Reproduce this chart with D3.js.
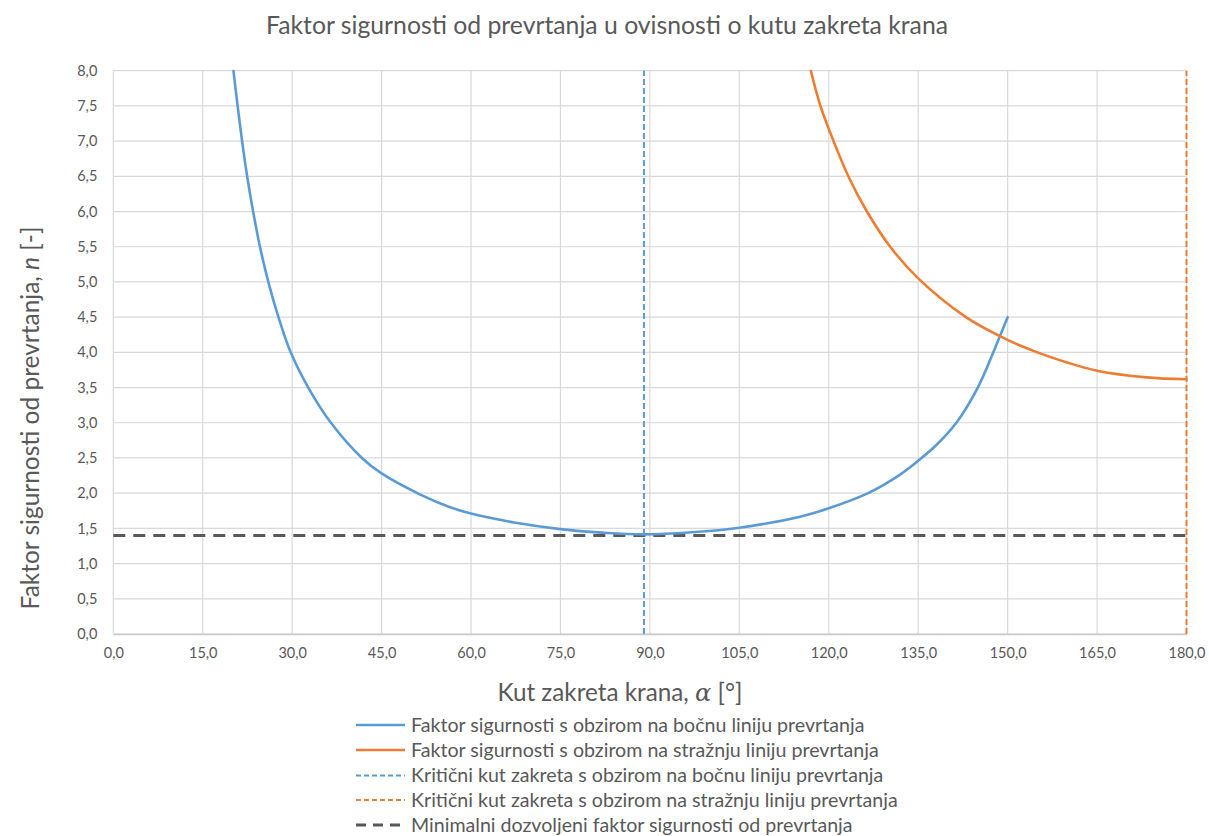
<!DOCTYPE html>
<html>
<head>
<meta charset="utf-8">
<script src="https://cdn.jsdelivr.net/npm/d3@7"></script>
<style>
  html, body { margin: 0; padding: 0; background: #ffffff; }
  svg { display: block; font-family: Lato, "Open Sans", sans-serif; }
</style>
</head>
<body>
<svg id="chart" width="1209" height="836"></svg>
<script>
// ---------------- data ----------------
const chartTitle = "Faktor sigurnosti od prevrtanja u ovisnosti o kutu zakreta krana";
const xTicks = [0, 15, 30, 45, 60, 75, 90, 105, 120, 135, 150, 165, 180];
const yTicks = [0, 0.5, 1, 1.5, 2, 2.5, 3, 3.5, 4, 4.5, 5, 5.5, 6, 6.5, 7, 7.5, 8];

// Faktor sigurnosti s obzirom na bočnu liniju prevrtanja
const sideAlpha = [20.15, 20.85, 21.6, 22.45, 23.45, 24.6, 26.0, 27.7, 29.75, 32.7, 36.5, 41.7, 45.0, 51.5, 56.5, 60.0, 67.5, 75.0, 82.0, 89.0, 97.0, 105.0, 115.2, 120.0, 126.6, 131.9, 135.0, 138.0, 141.4, 145.0, 147.6, 148.7, 150.0];
const sideN     = [8.0, 7.5, 7.0, 6.5, 6.0, 5.5, 5.0, 4.5, 4.0, 3.5, 3.0, 2.5, 2.28, 1.98, 1.80, 1.71, 1.58, 1.49, 1.44, 1.415, 1.445, 1.51, 1.666, 1.785, 2.0, 2.26, 2.46, 2.68, 3.0, 3.5, 4.0, 4.23, 4.5];

// Faktor sigurnosti s obzirom na stražnju liniju prevrtanja
const rearAlpha = [117.0, 118.6, 120.8, 123.4, 126.4, 130.3, 135.0, 143.0, 148.7, 152.0, 155.0, 160.0, 165.0, 173.3, 180.0];
const rearN     = [8.0, 7.5, 7.0, 6.48, 6.0, 5.5, 5.05, 4.5, 4.23, 4.1, 4.0, 3.855, 3.74, 3.645, 3.617];

const criticalSide = 89.0;   // kritični kut – bočna linija
const criticalRear = 180.0;  // kritični kut – stražnja linija
const minFactor = 1.4;       // minimalni dozvoljeni faktor

const legendLabels = [
  "Faktor sigurnosti s obzirom na bočnu liniju prevrtanja",
  "Faktor sigurnosti s obzirom na stražnju liniju prevrtanja",
  "Kritični kut zakreta s obzirom na bočnu liniju prevrtanja",
  "Kritični kut zakreta s obzirom na stražnju liniju prevrtanja",
  "Minimalni dozvoljeni faktor sigurnosti od prevrtanja"
];

// ---------------- styles ----------------
const C_BLUE = "#5B9BD5", C_ORANGE = "#ED7D31", C_DARK = "#595959";
const C_GRID = "#D9D9D9", C_TEXT = "#595959";
const legendStyles = [
  { color: C_BLUE, dash: null, width: 2.5 },
  { color: C_ORANGE, dash: null, width: 2.5 },
  { color: C_BLUE, dash: "5,3", width: 2 },
  { color: C_ORANGE, dash: "5,3", width: 2 },
  { color: C_DARK, dash: "10,7", width: 3 }
];

const svg = d3.select("#chart");
const plotLeft = 113.3, plotRight = 1186.5, plotTop = 70.7, plotBottom = 634;

const x = d3.scaleLinear().domain([0, 180]).range([plotLeft, plotRight]);
const y = d3.scaleLinear().domain([0, 8]).range([plotBottom, plotTop]);
const fmt = v => d3.format(".1f")(v).replace(".", ",");

function fitWidth(sel, target) {
  const node = sel.node();
  const fs = parseFloat(sel.attr("font-size"));
  const w = node.getComputedTextLength();
  if (w > 0) sel.attr("font-size", fs * target / w);
}

// gridlines
const grid = svg.append("g");
grid.selectAll("line.h").data(yTicks).join("line").attr("class", "h")
  .attr("x1", plotLeft).attr("x2", plotRight)
  .attr("y1", d => y(d)).attr("y2", d => y(d))
  .attr("stroke", C_GRID).attr("stroke-width", 1.2);
grid.selectAll("line.v").data(xTicks).join("line").attr("class", "v")
  .attr("x1", d => x(d)).attr("x2", d => x(d))
  .attr("y1", plotTop).attr("y2", plotBottom)
  .attr("stroke", C_GRID).attr("stroke-width", 1.2);

// axes
const xAxis = d3.axisBottom(x).tickValues(xTicks).tickFormat(fmt).tickSize(0).tickPadding(14);
const gx = svg.append("g").attr("transform", `translate(0,${plotBottom})`).call(xAxis);
gx.select(".domain").attr("stroke", "#C8C8C8").attr("stroke-width", 1.5);
gx.selectAll("text").attr("fill", C_TEXT).attr("font-size", 14.5).attr("font-family", "Lato, sans-serif");

const yAxis = d3.axisLeft(y).tickValues(yTicks).tickFormat(fmt).tickSize(0).tickPadding(16);
const gy = svg.append("g").attr("transform", `translate(${plotLeft},0)`).call(yAxis);
gy.select(".domain").remove();
gy.selectAll("text").attr("fill", C_TEXT).attr("font-size", 14.5).attr("font-family", "Lato, sans-serif");

// clip
svg.append("clipPath").attr("id", "plotclip").append("rect")
  .attr("x", plotLeft - 2).attr("y", plotTop - 1).attr("width", plotRight - plotLeft + 4).attr("height", plotBottom - plotTop + 2);
const plot = svg.append("g").attr("clip-path", "url(#plotclip)");

const line = d3.line().x(d => x(d[0])).y(d => y(d[1])).curve(d3.curveCatmullRom.alpha(0.5));

// minimal factor (dashed dark)
plot.append("line")
  .attr("x1", x(0)).attr("x2", x(180)).attr("y1", y(minFactor)).attr("y2", y(minFactor))
  .attr("stroke", C_DARK).attr("stroke-width", 3).attr("stroke-dasharray", "12,8");

// critical angle lines
plot.append("line")
  .attr("x1", x(criticalSide)).attr("x2", x(criticalSide)).attr("y1", y(0)).attr("y2", y(8))
  .attr("stroke", C_BLUE).attr("stroke-width", 2).attr("stroke-dasharray", "6,3");
plot.append("line")
  .attr("x1", x(criticalRear)).attr("x2", x(criticalRear)).attr("y1", y(0)).attr("y2", y(8))
  .attr("stroke", C_ORANGE).attr("stroke-width", 2).attr("stroke-dasharray", "6,3");

// curves
plot.append("path").datum(sideAlpha.map((a, i) => [a, sideN[i]]))
  .attr("d", line).attr("fill", "none").attr("stroke", C_BLUE).attr("stroke-width", 2.6)
  .attr("stroke-linecap", "round");
plot.append("path").datum(rearAlpha.map((a, i) => [a, rearN[i]]))
  .attr("d", line).attr("fill", "none").attr("stroke", C_ORANGE).attr("stroke-width", 2.6)
  .attr("stroke-linecap", "round");

// title
const title = svg.append("text").attr("x", 607).attr("y", 34).attr("text-anchor", "middle")
  .attr("fill", C_TEXT).attr("font-size", 20).attr("font-family", "Lato, sans-serif")
  .text(chartTitle);
fitWidth(title, 682);

// x axis title
const xt = svg.append("text").attr("x", 620).attr("y", 701).attr("text-anchor", "middle")
  .attr("fill", C_TEXT).attr("font-size", 22).attr("font-family", "Lato, sans-serif");
xt.append("tspan").text("Kut zakreta krana, ");
xt.append("tspan").attr("font-style", "italic").attr("font-family", "DejaVu Serif, serif").text("α");
xt.append("tspan").text(" [°]");
fitWidth(xt, 245);

// y axis title
const yt = svg.append("text").attr("transform", "translate(39,418) rotate(-90)").attr("text-anchor", "middle")
  .attr("fill", C_TEXT).attr("font-size", 22).attr("font-family", "Lato, sans-serif");
yt.append("tspan").text("Faktor sigurnosti od prevrtanja, ");
yt.append("tspan").attr("font-style", "italic").text("n");
yt.append("tspan").text(" [-]");
fitWidth(yt, 383);

// legend
const legendY = [725, 750, 775.5, 800, 825];
const lg = svg.append("g");
const legendTexts = [];
legendLabels.forEach((lab, i) => {
  const s = legendStyles[i];
  const ln = lg.append("line").attr("x1", 356).attr("x2", 405)
    .attr("y1", legendY[i]).attr("y2", legendY[i])
    .attr("stroke", s.color).attr("stroke-width", s.width);
  if (s.dash) ln.attr("stroke-dasharray", s.dash);
  const t = lg.append("text").attr("x", 411).attr("y", legendY[i]).attr("dy", "0.35em")
    .attr("fill", C_TEXT).attr("font-size", 17).attr("font-family", "Lato, sans-serif").text(lab);
  legendTexts.push(t);
});
(function () {
  const t = legendTexts[3];
  const w = t.node().getComputedTextLength();
  const fs = 17 * 487 / w;
  legendTexts.forEach(tt => tt.attr("font-size", fs));
})();
</script>
</body>
</html>
